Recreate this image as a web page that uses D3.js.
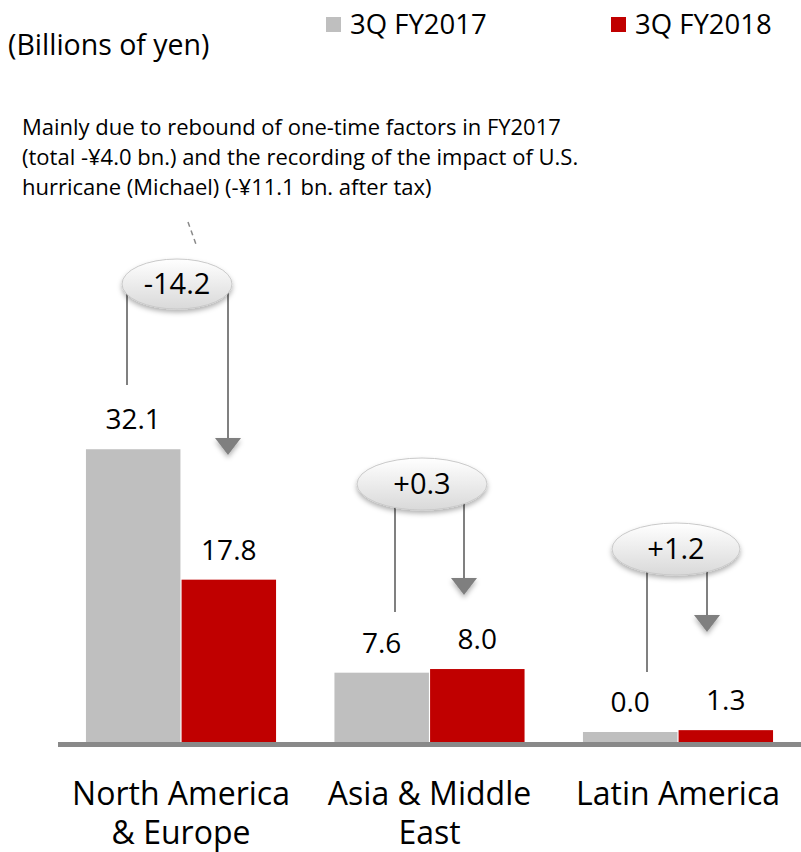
<!DOCTYPE html>
<html><head><meta charset="utf-8">
<script src="https://cdn.jsdelivr.net/npm/d3@7"></script>
<style>body{margin:0;background:#fff}svg{display:block}text{font-family:"Open Sans",sans-serif;fill:#000}</style>
</head><body><svg id="c" width="801" height="852"></svg>
<script>
// ---- data ----
const categories = ["North America\n& Europe", "Asia & Middle\nEast", "Latin America"];
const seriesNames = ["3Q FY2017", "3Q FY2018"];
const fy2017 = [32.1, 7.6, 0.0];
const fy2018 = [17.8, 8.0, 1.3];
const changeLabels = ["-14.2", "+0.3", "+1.2"];
const unitLabel = "(Billions of yen)";
const noteLines = [
  "Mainly due to rebound of one-time factors in FY2017",
  "(total -\u00a54.0 bn.) and the recording of the impact of U.S.",
  "hurricane (Michael) (-\u00a511.1 bn. after tax)"
];

// ---- layout / style ----
const colors = ["#bfbfbf", "#c00000"];
const W = 801, H = 852, baseY = 742;
const svg = d3.select("#c");
const defs = svg.append("defs");
const grad = defs.append("linearGradient").attr("id","eg").attr("x1",0).attr("y1",0).attr("x2",0).attr("y2",1);
grad.append("stop").attr("offset","0%").attr("stop-color","#ffffff");
grad.append("stop").attr("offset","100%").attr("stop-color","#d9d9d9");
const f = defs.append("filter").attr("id","sh").attr("x","-30%").attr("y","-30%").attr("width","160%").attr("height","180%");
f.append("feDropShadow").attr("dx",0).attr("dy",3).attr("stdDeviation",2.5).attr("flood-color","#000").attr("flood-opacity",0.3);

const x0 = d3.scaleBand().domain(categories).range([58, 801]).paddingInner(0.235).paddingOuter(0.1125);
const x1 = d3.scaleBand().domain(seriesNames).range([0, x0.bandwidth()]).paddingInner(0.012);
const y = d3.scaleLinear().domain([0, 35]).range([baseY, baseY - 35 * 9.12]);
const minH = 10;

const rows = categories.map((c, i) => ({c, vals: [fy2017[i], fy2018[i]]}));

// bars
const g = svg.append("g");
rows.forEach(r => {
  r.vals.forEach((v, j) => {
    const h = Math.max(baseY - y(v), minH);
    const bx = x0(r.c) + x1(seriesNames[j]);
    g.append("rect").attr("x", bx).attr("y", baseY - h).attr("width", x1.bandwidth()).attr("height", h).attr("fill", colors[j]);
    g.append("text").attr("x", bx + x1.bandwidth()/2).attr("y", baseY - h - 20)
      .attr("text-anchor","middle").attr("font-size", 28).text(v.toFixed(1));
  });
});

// baseline
svg.append("rect").attr("x", 58).attr("y", baseY).attr("width", W - 58).attr("height", 5).attr("fill", "#898989");

// category labels
rows.forEach(r => {
  const cx = x0(r.c) + x0.bandwidth()/2;
  const t = svg.append("text").attr("text-anchor","middle").attr("font-size", 32);
  r.c.split("\n").forEach((ln, k) => t.append("tspan").attr("x", cx).attr("y", 805 + k*39).text(ln));
});

// annotation callouts (pixel layout)
const callouts = [
  {cx:177, cy:284, rx:55, ry:25, lx:127, rxl:228, lEnd:385, tip:455},
  {cx:422, cy:484, rx:65, ry:26, lx:395, rxl:464, lEnd:612, tip:595},
  {cx:676, cy:549, rx:64, ry:26, lx:647, rxl:707, lEnd:672, tip:632}
];
callouts.forEach((a, i) => {
  svg.append("line").attr("x1", a.lx).attr("x2", a.lx).attr("y1", a.cy).attr("y2", a.lEnd).attr("stroke","#808080").attr("stroke-width",2);
  svg.append("line").attr("x1", a.rxl).attr("x2", a.rxl).attr("y1", a.cy).attr("y2", a.tip - 15).attr("stroke","#808080").attr("stroke-width",2);
  svg.append("path").attr("d", `M${a.rxl-13},${a.tip-17}L${a.rxl+13},${a.tip-17}L${a.rxl},${a.tip}Z`).attr("fill","#7f7f7f").attr("filter","url(#sh)");
  svg.append("ellipse").attr("cx", a.cx).attr("cy", a.cy).attr("rx", a.rx).attr("ry", a.ry)
    .attr("fill","url(#eg)").attr("stroke","#c9c9c9").attr("stroke-width",1).attr("filter","url(#sh)");
  svg.append("text").attr("x", a.cx).attr("y", a.cy + 10).attr("text-anchor","middle").attr("font-size", 29).text(changeLabels[i]);
});

// note + dashed leader
noteLines.forEach((ln, k) => svg.append("text").attr("x", 22).attr("y", 135 + k*30).attr("font-size", 22).text(ln));
svg.append("line").attr("x1",188).attr("y1",222).attr("x2",197).attr("y2",247).attr("stroke","#8a8a8a").attr("stroke-width",1.5).attr("stroke-dasharray","5,4");

// unit + legend
svg.append("text").attr("x", 8).attr("y", 55).attr("font-size", 28.5).text(unitLabel);
const legX = [326, 611];
seriesNames.forEach((s, j) => {
  svg.append("rect").attr("x", legX[j]).attr("y", 17).attr("width", 15).attr("height", 15).attr("fill", colors[j]);
  svg.append("text").attr("x", legX[j] + 24).attr("y", 34).attr("font-size", 27.5).text(s);
});
</script></body></html>
